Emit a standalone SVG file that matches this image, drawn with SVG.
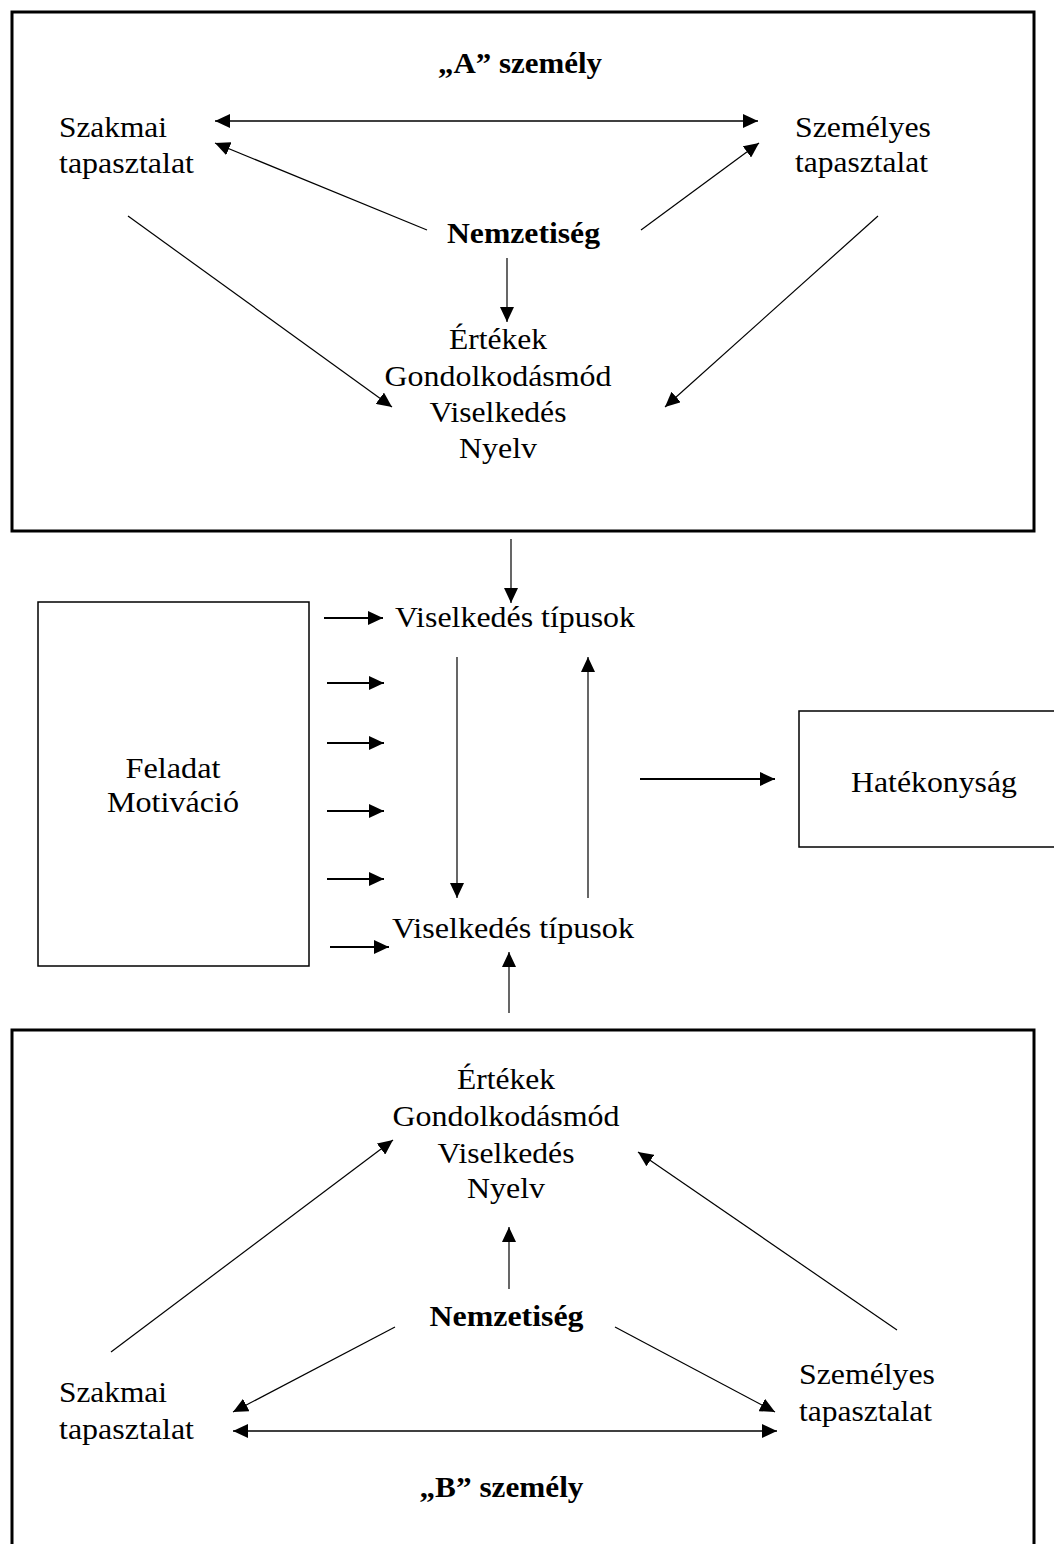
<svg xmlns="http://www.w3.org/2000/svg" width="1054" height="1544" viewBox="0 0 1054 1544">
<defs>
<marker id="ah" markerUnits="userSpaceOnUse" markerWidth="16" markerHeight="14" refX="15" refY="7" orient="auto-start-reverse" viewBox="0 0 16 14">
<path d="M0,0 L15,7 L0,14 z" fill="#000"/>
</marker>
<style>
text{font-family:"Liberation Serif","Times New Roman",serif;font-size:30px;fill:#000}
.b{font-weight:bold}
.m{text-anchor:middle}
.big{fill:none;stroke:#000;stroke-width:3}
.box{fill:none;stroke:#000;stroke-width:1.5}
.c line{stroke:#000;stroke-width:1.2;marker-end:url(#ah)}
.c line.d{marker-start:url(#ah);stroke-width:1.6}
.c line.h{stroke-width:1.8}
</style>
</defs>
<rect x="0" y="0" width="1054" height="1544" fill="#fff"/>

<g id="personA">
<rect class="big" x="12" y="12" width="1022" height="519"/>
<text class="b m" x="520" y="73" textLength="164" lengthAdjust="spacingAndGlyphs">„A” személy</text>
</g>
<g id="a-szakmai"><text x="59" y="137" textLength="108" lengthAdjust="spacingAndGlyphs">Szakmai</text><text x="59" y="173" textLength="135" lengthAdjust="spacingAndGlyphs">tapasztalat</text></g>
<g id="a-szemelyes"><text x="795" y="137" textLength="136" lengthAdjust="spacingAndGlyphs">Személyes</text><text x="795" y="172" textLength="133" lengthAdjust="spacingAndGlyphs">tapasztalat</text></g>
<g id="a-nemzetiseg"><text class="b m" x="523.5" y="243" textLength="153" lengthAdjust="spacingAndGlyphs">Nemzetiség</text></g>
<g id="a-ertekek">
<text class="m" x="498" y="349" textLength="98" lengthAdjust="spacingAndGlyphs">Értékek</text>
<text class="m" x="498" y="385.5" textLength="227" lengthAdjust="spacingAndGlyphs">Gondolkodásmód</text>
<text class="m" x="498" y="422" textLength="137" lengthAdjust="spacingAndGlyphs">Viselkedés</text>
<text class="m" x="498" y="458" textLength="78" lengthAdjust="spacingAndGlyphs">Nyelv</text>
</g>

<g id="feladat">
<rect class="box" x="38" y="602" width="271" height="364"/>
<text class="m" x="173" y="778" textLength="95" lengthAdjust="spacingAndGlyphs">Feladat</text>
<text class="m" x="173" y="812" textLength="132" lengthAdjust="spacingAndGlyphs">Motiváció</text>
</g>
<g id="vt-top"><text x="395" y="627" textLength="240" lengthAdjust="spacingAndGlyphs">Viselkedés típusok</text></g>
<g id="vt-bottom"><text x="392" y="938" textLength="242" lengthAdjust="spacingAndGlyphs">Viselkedés típusok</text></g>
<g id="hatekonysag">
<rect class="box" x="799" y="711" width="300" height="136"/>
<text x="851" y="792" textLength="166" lengthAdjust="spacingAndGlyphs">Hatékonyság</text>
</g>

<g id="personB">
<rect class="big" x="12" y="1030" width="1022" height="540"/>
<text class="b m" x="501.5" y="1497" textLength="164" lengthAdjust="spacingAndGlyphs">„B” személy</text>
</g>
<g id="b-ertekek">
<text class="m" x="506" y="1089" textLength="98" lengthAdjust="spacingAndGlyphs">Értékek</text>
<text class="m" x="506" y="1126" textLength="227" lengthAdjust="spacingAndGlyphs">Gondolkodásmód</text>
<text class="m" x="506" y="1163" textLength="137" lengthAdjust="spacingAndGlyphs">Viselkedés</text>
<text class="m" x="506" y="1198" textLength="78" lengthAdjust="spacingAndGlyphs">Nyelv</text>
</g>
<g id="b-nemzetiseg"><text class="b m" x="506.5" y="1326" textLength="154" lengthAdjust="spacingAndGlyphs">Nemzetiség</text></g>
<g id="b-szakmai"><text x="59" y="1402" textLength="108" lengthAdjust="spacingAndGlyphs">Szakmai</text><text x="59" y="1439" textLength="135" lengthAdjust="spacingAndGlyphs">tapasztalat</text></g>
<g id="b-szemelyes"><text x="799" y="1384" textLength="136" lengthAdjust="spacingAndGlyphs">Személyes</text><text x="799" y="1421" textLength="133" lengthAdjust="spacingAndGlyphs">tapasztalat</text></g>

<g id="connectors" class="c">
<line class="d" x1="215" y1="121" x2="758" y2="121"/>
<line x1="427" y1="230" x2="215" y2="143"/>
<line x1="641" y1="230" x2="759" y2="143"/>
<line x1="128" y1="216" x2="392" y2="407"/>
<line x1="878" y1="216" x2="665" y2="407"/>
<line x1="507" y1="258" x2="507" y2="322"/>

<line x1="511" y1="539" x2="511" y2="603"/>
<line class="h" x1="324" y1="618" x2="383" y2="618"/>
<line class="h" x1="327" y1="683" x2="384" y2="683"/>
<line class="h" x1="327" y1="743" x2="384" y2="743"/>
<line class="h" x1="327" y1="811" x2="384" y2="811"/>
<line class="h" x1="327" y1="879" x2="384" y2="879"/>
<line class="h" x1="330" y1="947" x2="389" y2="947"/>
<line x1="457" y1="657" x2="457" y2="898"/>
<line x1="588" y1="898" x2="588" y2="657"/>
<line class="h" x1="640" y1="779" x2="775" y2="779"/>
<line x1="509" y1="1013" x2="509" y2="952"/>

<line x1="509" y1="1289" x2="509" y2="1227"/>
<line x1="111" y1="1352" x2="393" y2="1140"/>
<line x1="897" y1="1330" x2="638" y2="1152"/>
<line x1="395" y1="1327" x2="233" y2="1412"/>
<line x1="615" y1="1327" x2="775" y2="1412"/>
<line class="d" x1="233" y1="1431" x2="777" y2="1431"/>
</g>
</svg>
